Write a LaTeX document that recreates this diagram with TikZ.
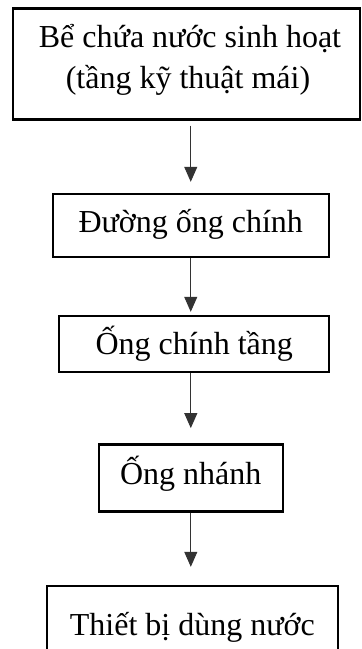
\documentclass[tikz,border=0pt]{standalone}
\usepackage{fontspec}
\setmainfont{Liberation Serif}
\usetikzlibrary{arrows.meta}
\tikzset{
  box/.style={draw=black, line width=2.4pt, inner sep=0pt, fill=none},
  txt/.style={font=\fontsize{32}{41}\selectfont, inner sep=0pt},
  boxtxt/.style={box, font=\fontsize{32}{41}\selectfont, text height=21pt, text depth=8pt},
  arr/.style={draw=black!80, line width=1pt, -{Triangle[width=13pt,length=15pt]}}
}
\begin{document}
\begin{tikzpicture}[x=1pt,y=-1pt]
\useasboundingbox (0,0) rectangle (362,649);
\clip (0,0) rectangle (362,649);
\fill[white] (0,0) rectangle (362,649);
% box 1
\node[box, minimum width=347pt, minimum height=111pt] (b1) at (186.5,64) {};
\node[txt, anchor=base] (t1a) at (190,47) {Bể chứa nước sinh hoạt};
\node[txt, anchor=base] (t1b) at (188,88) {(tầng kỹ thuật mái)};
% box 2
\node[boxtxt, minimum width=276pt, minimum height=63pt] (b2) at (190.75,225.5) {Đường ống chính};
% box 3
\node[boxtxt, minimum width=270pt, minimum height=56pt, text height=24pt, text depth=3pt] (b3) at (194.2,344) {Ống chính tầng};
% box 4
\node[boxtxt, minimum width=184pt, minimum height=67pt, text height=22pt, text depth=8pt] (b4) at (190.8,477.8) {Ống nhánh};
% box 5 (extends below the picture)
\node[boxtxt, minimum width=291pt, minimum height=88pt, text height=20pt, text depth=10pt] (b5) at (192.3,630) {Thiết bị dùng nước};
% connectors
\draw[arr, shorten <=5pt, shorten >=11pt] (b1.south -| b2.center) -- (b2.north);
\draw[arr, shorten <=0pt, shorten >=3pt] (b2.south) -- (b3.north -| b2.south);
\draw[arr, shorten <=0pt, shorten >=15pt] (b3.south -| b4.center) -- (b4.north);
\draw[arr, shorten <=0pt, shorten >=18pt] (b4.south) -- (b5.north -| b4.south);
\end{tikzpicture}
\end{document}
